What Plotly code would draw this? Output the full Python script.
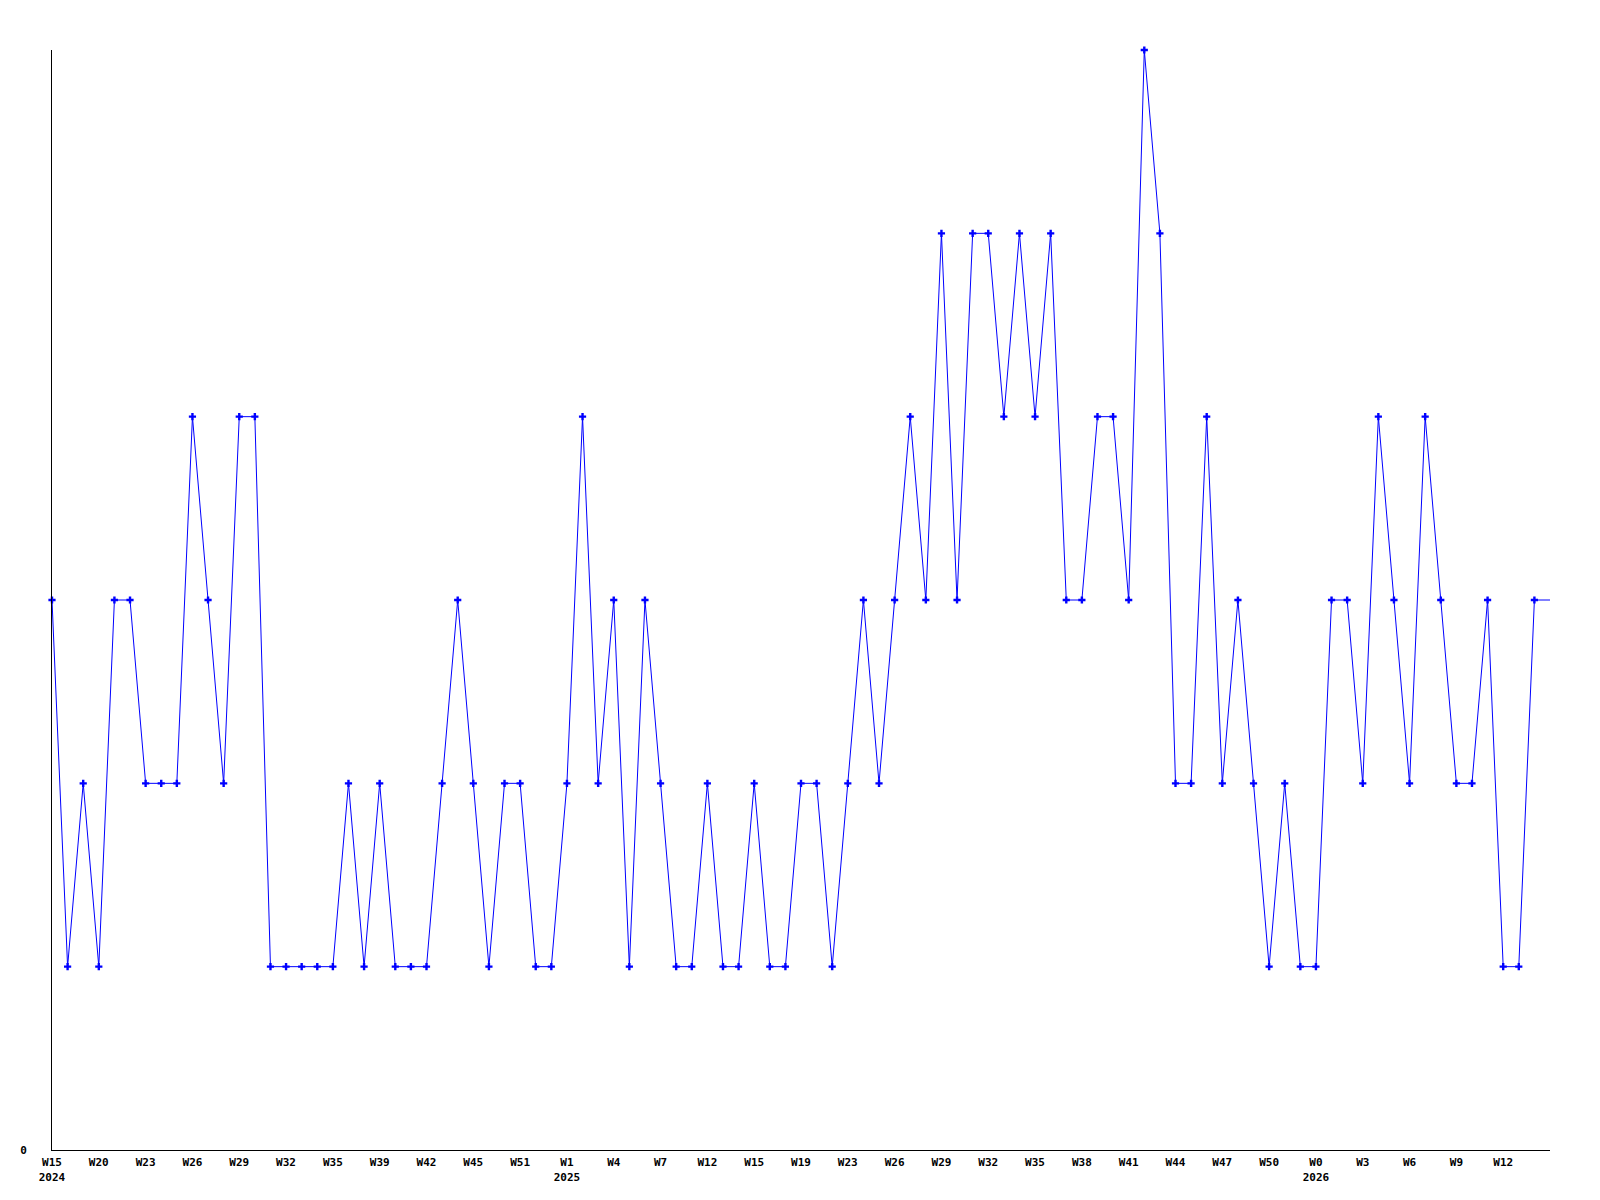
import plotly.graph_objects as go

# Weekly values (one per point, in order)
values = [3, 1, 2, 1, 3, 3, 2, 2, 2, 4, 3, 2, 4, 4, 1, 1, 1, 1, 1, 2,
          1, 2, 1, 1, 1, 2, 3, 2, 1, 2, 2, 1, 1, 2, 4, 2, 3, 1, 3, 2,
          1, 1, 2, 1, 1, 2, 1, 1, 2, 2, 1, 2, 3, 2, 3, 4, 3, 5, 3, 5,
          5, 4, 5, 4, 5, 3, 3, 4, 4, 3, 6, 5, 2, 2, 4, 2, 3, 2, 1, 2,
          1, 1, 3, 3, 2, 4, 3, 2, 4, 3, 2, 2, 3, 1, 1, 3, 3]

# Tick labels shown every third point
tick_labels = ["W15<br>2024", "W20", "W23", "W26", "W29", "W32", "W35", "W39",
               "W42", "W45", "W51", "W1<br>2025", "W4", "W7", "W12", "W15",
               "W19", "W23", "W26", "W29", "W32", "W35", "W38", "W41", "W44",
               "W47", "W50", "W0<br>2026", "W3", "W6", "W9", "W12"]

n = len(values)
xs = list(range(n))
tick_pos = list(range(0, 3 * len(tick_labels), 3))

fig = go.Figure()
# line through every point
fig.add_trace(go.Scatter(
    x=xs, y=values, mode="lines",
    line=dict(color="#0000ff", width=1),
    showlegend=False, hoverinfo="skip",
))
# markers on all but the trailing edge point
fig.add_trace(go.Scatter(
    x=xs[:-1], y=values[:-1], mode="markers",
    marker=dict(symbol="cross", size=6, color="#0000ff", line=dict(width=0)),
    cliponaxis=False, showlegend=False, hoverinfo="x+y",
))

font = dict(family="DejaVu Sans Mono", size=11, color="#000000", weight="bold")

fig.update_layout(
    width=1600, height=1200,
    margin=dict(l=42, r=58, t=42, b=58, pad=0),
    paper_bgcolor="white", plot_bgcolor="white",
    font=font,
    xaxis=dict(range=[0, n - 1], tickvals=tick_pos, ticktext=tick_labels,
               showgrid=False, zeroline=False, showline=True,
               linecolor="#000000", linewidth=1, ticks="", tickfont=font,
               tickangle=0, ticklabelstandoff=2),
    yaxis=dict(range=[0, 6], tickvals=[0], ticktext=["0"],
               showgrid=False, zeroline=False, showline=True,
               linecolor="#000000", linewidth=1, ticks="", tickfont=font,
               ticklabelstandoff=22),
)

fig.write_html("out.html")
